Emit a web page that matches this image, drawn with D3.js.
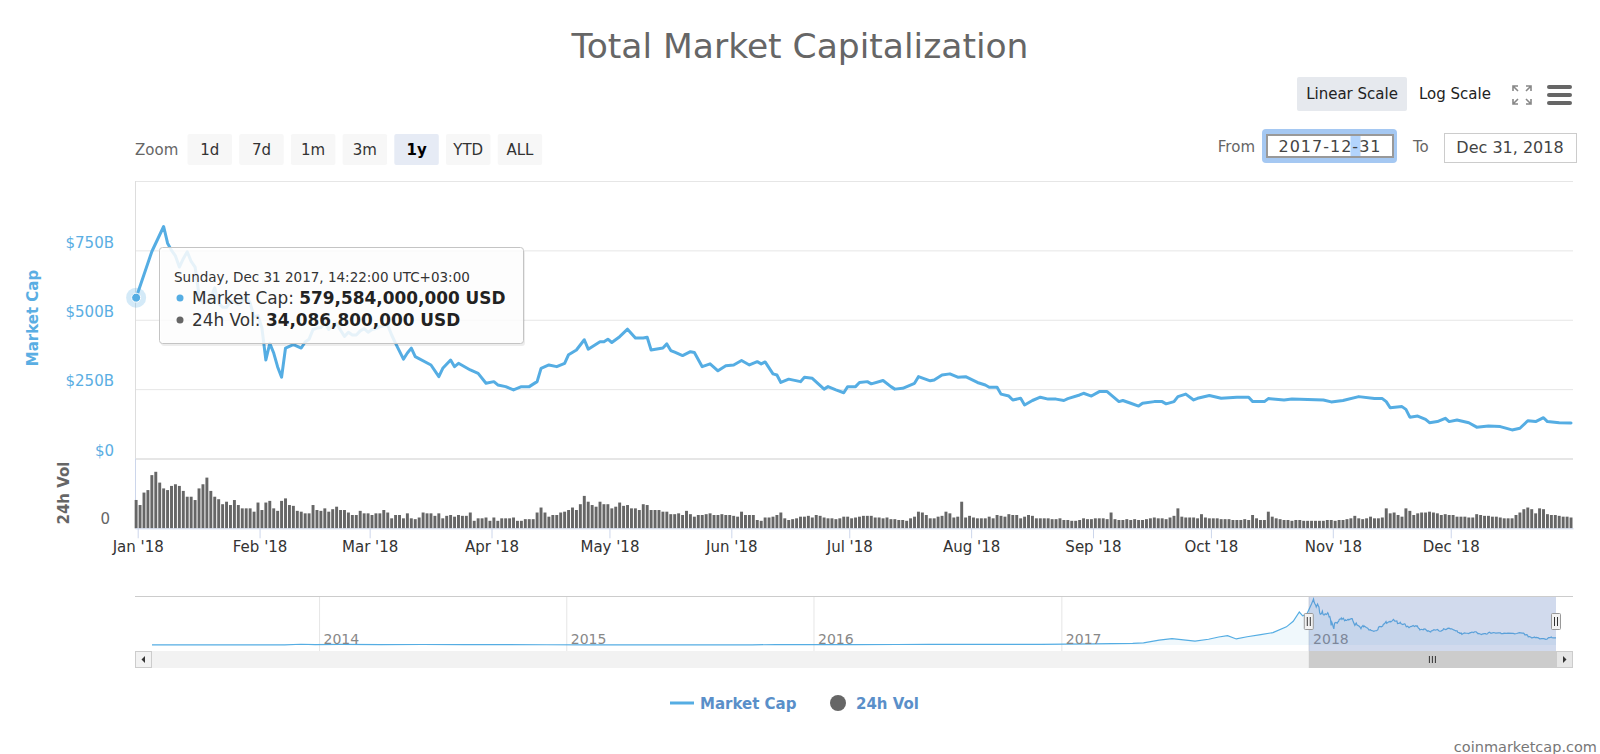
<!DOCTYPE html>
<html lang="en">
<head>
<meta charset="UTF-8">
<title>Total Market Capitalization</title>
<script src="https://d3js.org/d3.v7.min.js"></script>
<style>
  body { margin: 0; background: #fff; }
  svg { display: block; font-family: "DejaVu Sans", sans-serif; }
</style>
</head>
<body>
<div id="chart"></div>
<script>
// ---- data (billions of USD) ----
const capDates = [
  "2017-12-31","2018-01-04","2018-01-07","2018-01-08","2018-01-09","2018-01-10","2018-01-11","2018-01-12","2018-01-13","2018-01-14",
  "2018-01-15","2018-01-16","2018-01-17","2018-01-18","2018-01-19","2018-01-20","2018-01-21","2018-01-22","2018-01-23","2018-01-24",
  "2018-01-25","2018-01-26","2018-01-27","2018-01-28","2018-01-29","2018-01-30","2018-01-31","2018-02-01","2018-02-02","2018-02-03",
  "2018-02-04","2018-02-05","2018-02-06","2018-02-07","2018-02-09","2018-02-11","2018-02-12","2018-02-13","2018-02-14","2018-02-15",
  "2018-02-16","2018-02-17","2018-02-18","2018-02-19","2018-02-20","2018-02-21","2018-02-22","2018-02-23","2018-02-24","2018-02-25",
  "2018-02-26","2018-02-27","2018-02-28","2018-03-01","2018-03-02","2018-03-03","2018-03-04","2018-03-05","2018-03-06","2018-03-07",
  "2018-03-09","2018-03-10","2018-03-11","2018-03-12","2018-03-16","2018-03-18","2018-03-19","2018-03-21","2018-03-22","2018-03-23",
  "2018-03-26","2018-03-28","2018-03-30","2018-04-01","2018-04-02","2018-04-04","2018-04-06","2018-04-08","2018-04-10","2018-04-12",
  "2018-04-13","2018-04-15","2018-04-17","2018-04-19","2018-04-20","2018-04-22","2018-04-24","2018-04-25","2018-04-28","2018-04-29",
  "2018-04-30","2018-05-01","2018-05-03","2018-05-05","2018-05-07","2018-05-09","2018-05-10","2018-05-11","2018-05-14","2018-05-15",
  "2018-05-16","2018-05-17","2018-05-19","2018-05-21","2018-05-22","2018-05-24","2018-05-26","2018-05-28","2018-05-30","2018-06-01",
  "2018-06-03","2018-06-05","2018-06-07","2018-06-08","2018-06-09","2018-06-11","2018-06-12","2018-06-13","2018-06-15","2018-06-18",
  "2018-06-19","2018-06-21","2018-06-24","2018-06-25","2018-06-27","2018-06-29","2018-06-30","2018-07-02","2018-07-03","2018-07-05",
  "2018-07-06","2018-07-09","2018-07-11","2018-07-12","2018-07-14","2018-07-17","2018-07-18","2018-07-21","2018-07-22","2018-07-24",
  "2018-07-26","2018-07-28","2018-07-30","2018-08-02","2018-08-04","2018-08-05","2018-08-07","2018-08-08","2018-08-10","2018-08-11",
  "2018-08-13","2018-08-14","2018-08-16","2018-08-18","2018-08-20","2018-08-22","2018-08-24","2018-08-25","2018-08-28","2018-08-29",
  "2018-08-31","2018-09-02","2018-09-04","2018-09-07","2018-09-08","2018-09-10","2018-09-12","2018-09-13","2018-09-16","2018-09-18",
  "2018-09-19","2018-09-21","2018-09-22","2018-09-24","2018-09-26","2018-09-27","2018-09-30","2018-10-03","2018-10-07","2018-10-10",
  "2018-10-11","2018-10-14","2018-10-15","2018-10-19","2018-10-21","2018-10-29","2018-10-31","2018-11-03","2018-11-07","2018-11-11",
  "2018-11-13","2018-11-14","2018-11-15","2018-11-18","2018-11-19","2018-11-20","2018-11-22","2018-11-24","2018-11-25","2018-11-27",
  "2018-11-29","2018-11-30","2018-12-02","2018-12-05","2018-12-07","2018-12-10","2018-12-13","2018-12-16","2018-12-18","2018-12-20",
  "2018-12-22","2018-12-24","2018-12-25","2018-12-28","2018-12-31"
];
const capValues = [
  579.584,746,836,776,750,730,690,720,745,710,
  690,590,560,565,580,615,560,545,545,565,
  565,555,565,585,560,510,515,470,355,415,
  380,330,293,398,410,398,420,430,465,470,
  472,490,465,478,488,462,440,455,445,445,
  460,468,455,465,468,475,478,480,445,415,
  358,380,398,367,337,295,325,355,331,343,
  319,307,271,277,265,259,247,259,259,277,
  325,337,331,343,374,391,428,394,421,421,
  430,418,439,466,434,434,437,391,398,413,
  389,383,371,385,382,331,341,316,334,337,
  353,337,349,341,348,305,301,274,286,277,
  293,289,250,259,247,237,259,259,274,277,
  269,281,259,250,253,271,295,280,283,301,
  305,293,295,274,265,257,257,232,225,211,
  217,193,209,221,214,214,209,216,229,235,
  225,241,241,205,209,199,189,199,205,205,
  197,205,223,232,211,217,227,217,221,221,
  205,205,216,211,214,211,204,209,223,216,
  216,205,183,187,177,149,153,141,129,133,
  145,133,139,129,113,117,115,103,109,136,
  133,147,133,129,128
];

// daily 24h volume from 2017-12-31, one row per month
const volStart = "2017-12-31";
const volValues = [
  34.0868,
  28,43,46,64,68,55,48,46,51,53,51,45,38,38,34,48,53,61,45,38,35,29,32,28,34,28,24,24,24,20,31,
  22,31,33,24,21,33,36,28,27,21,20,18,18,28,22,21,24,20,23,26,22,22,19,16,16,21,18,18,
  16,18,18,22,19,12,16,16,12,18,12,11,13,19,18,18,15,18,12,15,16,14,16,15,15,19,9,12,12,13,9,
  13,9,12,12,12,13,9,9,11,11,11,19,25,19,14,16,16,19,20,22,25,22,29,39,32,28,26,32,29,29,
  24,26,31,27,28,24,24,22,29,28,22,22,22,20,20,17,17,18,16,21,17,14,16,16,17,18,16,16,17,16,16,
  15,14,20,16,16,16,10,9,13,13,14,16,19,12,10,11,12,14,14,15,13,16,15,13,12,12,11,12,14,14,
  12,13,14,15,15,15,13,13,12,13,11,11,10,10,9,12,14,20,19,16,12,12,14,15,20,18,13,14,32,13,15,
  13,12,12,12,14,12,16,15,14,17,16,16,12,14,16,15,12,12,12,12,11,11,12,10,10,9,9,10,12,11,11,
  12,12,12,11,19,11,10,10,11,10,11,10,10,11,12,13,12,12,11,13,15,24,14,13,13,13,12,17,13,12,
  12,12,11,11,11,10,10,10,11,10,16,12,10,10,20,14,12,11,10,10,9,10,10,9,9,9,9,9,9,10,10,
  9,10,10,11,12,15,12,11,12,14,12,12,13,24,18,19,16,14,24,21,16,18,19,19,20,19,18,16,17,16,
  16,14,14,14,13,13,17,16,15,15,14,14,13,12,12,12,16,19,23,25,23,18,24,23,17,16,16,15,14,14,13
];

// navigator history before 2018
const navDates = [
  "2013-04-28","2013-06-15","2013-08-15","2013-10-15","2013-11-10","2013-12-04","2013-12-25",
  "2014-02-01","2014-04-01","2014-06-01","2014-08-01","2014-10-01","2014-12-01",
  "2015-02-01","2015-04-01","2015-06-01","2015-08-01","2015-10-01","2015-11-05",
  "2016-01-01","2016-03-01","2016-05-01","2016-06-18","2016-08-01","2016-10-01","2016-12-01",
  "2017-01-05","2017-02-15","2017-03-15","2017-04-15","2017-05-01","2017-05-24","2017-06-12","2017-07-16","2017-08-05","2017-08-20",
  "2017-09-02","2017-09-15","2017-10-01","2017-10-21","2017-11-08","2017-11-28","2017-12-08","2017-12-17","2017-12-22","2017-12-28"
];
const navValues = [
  1.6,1.3,1.4,2.0,4,14,8,
  12,8,9,8,7,5,
  4,4,3.5,4,4,6,
  7,7.5,9,12,10,10.5,12,
  17,19,25,30,40,88,115,72,105,145,
  170,110,150,190,225,330,430,600,530,560
];

const yTicks = [0, 250, 500, 750, 1000];
const navYears = [2014, 2015, 2016, 2017, 2018];
const zoomButtons = ["1d", "7d", "1m", "3m", "1y", "YTD", "ALL"];

// ---- layout ----
const W = 1600, H = 754;
const left = 135, right = 1573;
const capTop = 181, capBottom = 458.5, volBottom = 528.3;
const blue = "#55ade3";

const parse = d3.utcParse("%Y-%m-%d");
const stamp = s => new Date(parse(s).getTime() + (14 * 60 + 22) * 60000);

const cap = capDates.map((d, i) => ({ date: stamp(d), value: capValues[i] }));
const vol = volValues.map((v, i) => ({ date: d3.utcDay.offset(stamp(volStart), i), value: v }));
const nav = navDates.map((d, i) => ({ date: stamp(d), value: navValues[i] })).concat(cap.slice(1));

const x = d3.scaleUtc()
  .domain([new Date(Date.UTC(2017, 11, 31, 7, 30)), new Date(Date.UTC(2019, 0, 1, 2, 24))])
  .range([left, right]);
const yCap = d3.scaleLinear().domain([0, 1000]).range([capBottom, capTop]);
const yVol = d3.scaleLinear().domain([0, 84]).range([volBottom, capBottom]);

const svg = d3.select("#chart").append("svg")
  .attr("width", W).attr("height", H);

svg.append("rect").attr("width", W).attr("height", H).attr("fill", "#fff");

// title
svg.append("text")
  .attr("x", 800).attr("y", 58)
  .attr("text-anchor", "middle")
  .attr("font-size", 34.5).attr("fill", "#666")
  .text("Total Market Capitalization");

// scale buttons, top right
svg.append("rect").attr("x", 1297).attr("y", 77).attr("width", 110).attr("height", 34)
  .attr("rx", 2).attr("fill", "#e6e9ee");
svg.append("text").attr("x", 1352).attr("y", 99).attr("text-anchor", "middle")
  .attr("font-size", 15).attr("fill", "#222").text("Linear Scale");
svg.append("text").attr("x", 1455).attr("y", 99).attr("text-anchor", "middle")
  .attr("font-size", 15).attr("fill", "#222").text("Log Scale");

// fullscreen icon
const fs = svg.append("g").attr("stroke", "#888").attr("stroke-width", 1.6).attr("fill", "none");
[[1513, 86, 1, 1], [1531, 86, -1, 1], [1513, 104, 1, -1], [1531, 104, -1, -1]].forEach(([cx, cy, sx, sy]) => {
  fs.append("path").attr("d", `M${cx},${cy + 5 * sy}L${cx},${cy}L${cx + 5 * sx},${cy}M${cx},${cy}L${cx + 5 * sx},${cy + 5 * sy}`);
});

// hamburger
[85, 93, 101].forEach(yy => {
  svg.append("rect").attr("x", 1547).attr("y", yy).attr("width", 25).attr("height", 4)
    .attr("rx", 2).attr("fill", "#666");
});

// range selector
svg.append("text").attr("x", left).attr("y", 155).attr("font-size", 15).attr("fill", "#666").text("Zoom");
const zb = svg.append("g").selectAll("g").data(zoomButtons).join("g")
  .attr("transform", (d, i) => `translate(${187.5 + i * 51.7},134)`);
zb.append("rect").attr("width", 44.5).attr("height", 31).attr("rx", 2)
  .attr("fill", d => d === "1y" ? "#e6ebf5" : "#f7f7f7");
zb.append("text").attr("x", 22.25).attr("y", 21).attr("text-anchor", "middle")
  .attr("font-size", 15).attr("fill", d => d === "1y" ? "#000" : "#333")
  .attr("font-weight", d => d === "1y" ? "bold" : "normal")
  .text(d => d);

svg.append("text").attr("x", 1255).attr("y", 152).attr("text-anchor", "end")
  .attr("font-size", 15).attr("fill", "#666").text("From");
svg.append("rect").attr("x", 1262).attr("y", 129).attr("width", 135).attr("height", 34)
  .attr("rx", 4).attr("fill", "#a5c8f2");
svg.append("rect").attr("x", 1267).attr("y", 135).attr("width", 126).attr("height", 22)
  .attr("fill", "#fff").attr("stroke", "#999").attr("stroke-width", 2);
svg.append("rect").attr("x", 1350.5).attr("y", 136).attr("width", 10).attr("height", 20).attr("fill", "#b3d4fc");
svg.append("text").attr("x", 1330).attr("y", 152).attr("text-anchor", "middle")
  .attr("font-size", 16).attr("letter-spacing", 1).attr("fill", "#444").text("2017-12-31");
svg.append("text").attr("x", 1413).attr("y", 152)
  .attr("font-size", 15).attr("fill", "#666").text("To");
svg.append("rect").attr("x", 1444.5).attr("y", 133.5).attr("width", 132).attr("height", 29)
  .attr("fill", "#fff").attr("stroke", "#ccc");
svg.append("text").attr("x", 1510).attr("y", 153).attr("text-anchor", "middle")
  .attr("font-size", 16).attr("fill", "#444").text("Dec 31, 2018");

// market cap pane: grid + axis
const yAxis = svg.append("g")
  .attr("transform", `translate(${left},0)`)
  .call(d3.axisLeft(yCap).tickValues(yTicks).tickSize(-(right - left)).tickPadding(21)
    .tickFormat(v => v === 1000 ? "" : v === 0 ? "$0" : "$" + v + "B"));
yAxis.select(".domain").remove();
yAxis.selectAll(".tick line").attr("stroke", "#e6e6e6").attr("stroke-width", d => d === 0 ? 2 : 1);
yAxis.selectAll(".tick text").attr("y", -8).attr("font-size", 15).attr("fill", "#5aaee3")
  .attr("font-family", "DejaVu Sans, sans-serif");

svg.append("line").attr("x1", left + 0.5).attr("x2", left + 0.5)
  .attr("y1", capTop).attr("y2", capBottom).attr("stroke", "#ddd");

svg.append("text")
  .attr("transform", "translate(33,318) rotate(-90)")
  .attr("text-anchor", "middle").attr("dy", "0.35em")
  .attr("font-size", 15).attr("font-weight", "bold").attr("fill", "#5aaee3")
  .text("Market Cap");

// volume pane
svg.append("line").attr("x1", left + 0.5).attr("x2", left + 0.5)
  .attr("y1", capBottom).attr("y2", volBottom).attr("stroke", "#ccd6eb");

const barW = x(d3.utcDay.offset(vol[0].date, 1)) - x(vol[0].date);
svg.append("g").selectAll("rect").data(vol).join("rect")
  .attr("x", d => x(d.date) - barW / 2 + 0.5)
  .attr("width", barW - 1)
  .attr("y", d => yVol(d.value))
  .attr("height", d => volBottom - yVol(d.value))
  .attr("fill", "#666");

svg.append("text").attr("x", 110).attr("y", 524).attr("text-anchor", "end")
  .attr("font-size", 15).attr("fill", "#666").text("0");
svg.append("text")
  .attr("transform", "translate(64,493) rotate(-90)")
  .attr("text-anchor", "middle").attr("dy", "0.35em")
  .attr("font-size", 15).attr("font-weight", "bold").attr("fill", "#666")
  .text("24h Vol");

// x axis
const months = d3.utcMonth.range(new Date(Date.UTC(2018, 0, 1)), new Date(Date.UTC(2019, 0, 1)));
const xAxis = svg.append("g")
  .attr("transform", `translate(0,${volBottom})`)
  .call(d3.axisBottom(x).tickValues(months).tickFormat(d3.utcFormat("%b '%y"))
    .tickSize(10).tickSizeOuter(0).tickPadding(3));
xAxis.select(".domain").attr("stroke", "#ccd6eb");
xAxis.selectAll(".tick line").attr("stroke", "#ccd6eb");
xAxis.selectAll(".tick text").attr("font-size", 15).attr("fill", "#333")
  .attr("font-family", "DejaVu Sans, sans-serif");

// market cap line
svg.append("path").datum(cap)
  .attr("fill", "none").attr("stroke", blue).attr("stroke-width", 3)
  .attr("stroke-linejoin", "round").attr("stroke-linecap", "round")
  .attr("d", d3.line().x(d => x(d.date)).y(d => yCap(d.value)));

// hovered point + tooltip
const p0 = cap[0], v0 = vol[0];
svg.append("circle").attr("cx", x(p0.date)).attr("cy", yCap(p0.value)).attr("r", 10)
  .attr("fill", blue).attr("opacity", 0.25);
svg.append("circle").attr("cx", x(p0.date)).attr("cy", yCap(p0.value)).attr("r", 4.5)
  .attr("fill", blue).attr("stroke", "#fff").attr("stroke-width", 1);

const tip = svg.append("g");
tip.append("rect").attr("x", 161).attr("y", 250).attr("width", 364).attr("height", 96)
  .attr("rx", 3).attr("fill", "rgba(0,0,0,0.07)");
tip.append("rect").attr("x", 159.5).attr("y", 247.5).attr("width", 364).attr("height", 96)
  .attr("rx", 3).attr("fill", "rgba(255,255,255,0.86)").attr("stroke", "#c4c4c4");
const fmtNum = d3.format(",");
tip.append("text").attr("x", 174).attr("y", 281.5).attr("font-size", 13.5).attr("fill", "#333")
  .text(d3.utcFormat("%A, %b %d %Y, %H:%M:%S")(p0.date) + " UTC+03:00");
[[blue, "Market Cap: ", p0.value, 303.5], ["#666", "24h Vol: ", v0.value, 325.5]].forEach(([c, label, v, yy]) => {
  tip.append("circle").attr("cx", 180).attr("cy", yy - 5.5).attr("r", 3.5).attr("fill", c);
  const t = tip.append("text").attr("x", 192).attr("y", yy).attr("font-size", 16.9).attr("fill", "#333");
  t.append("tspan").text(label);
  t.append("tspan").attr("font-weight", "bold").attr("fill", "#222")
    .text(fmtNum(Math.round(v * 1e9)) + " USD");
});

// navigator
const navTop = 596, navBottom = 651, scrollH = 17;
const navX = d3.scaleUtc()
  .domain([stamp("2013-04-28"), stamp("2018-12-31")])
  .range([left + scrollH, right - scrollH]);
const navY = d3.scaleLinear().domain([0, 836]).range([645, 599]);

navYears.forEach(yr => {
  const xx = navX(new Date(Date.UTC(yr, 0, 1)));
  svg.append("line").attr("x1", xx).attr("x2", xx).attr("y1", navTop).attr("y2", navBottom)
    .attr("stroke", "#e6e6e6");
});
svg.append("path").datum(nav)
  .attr("fill", blue).attr("fill-opacity", 0.09)
  .attr("d", d3.area().x(d => navX(d.date)).y0(645).y1(d => navY(d.value)));
svg.append("path").datum(nav)
  .attr("fill", "none").attr("stroke", blue).attr("stroke-width", 1.2)
  .attr("d", d3.line().x(d => navX(d.date)).y(d => navY(d.value)));
navYears.forEach(yr => {
  svg.append("text").attr("x", navX(new Date(Date.UTC(yr, 0, 1))) + 4).attr("y", 644)
    .attr("font-size", 14).attr("fill", "#888").text(yr);
});
svg.append("line").attr("x1", left).attr("x2", right).attr("y1", navTop + 0.5).attr("y2", navTop + 0.5)
  .attr("stroke", "#ccc");

const selL = navX(p0.date), selR = navX(cap[cap.length - 1].date);
svg.append("rect").attr("x", selL).attr("y", navTop + 1).attr("width", selR - selL).attr("height", navBottom - navTop - 1)
  .attr("fill", "rgba(102,133,194,0.3)");

// scrollbar
svg.append("rect").attr("x", left).attr("y", navBottom).attr("width", right - left).attr("height", scrollH)
  .attr("fill", "#f2f2f2");
svg.append("rect").attr("x", selL).attr("y", navBottom).attr("width", selR - selL).attr("height", scrollH)
  .attr("fill", "#ccc");
const gx = (selL + selR) / 2;
[-3, 0, 3].forEach(o => {
  svg.append("line").attr("x1", gx + o).attr("x2", gx + o).attr("y1", navBottom + 5).attr("y2", navBottom + 12)
    .attr("stroke", "#333");
});
[[left, -1], [right - scrollH, 1]].forEach(([bx, dir]) => {
  svg.append("rect").attr("x", bx + 0.5).attr("y", navBottom + 0.5).attr("width", scrollH - 1).attr("height", scrollH - 1)
    .attr("fill", dir < 0 ? "#f2f2f2" : "#e6e6e6").attr("stroke", "#ccc");
  const cx = bx + scrollH / 2, cy = navBottom + scrollH / 2;
  svg.append("path").attr("fill", "#333")
    .attr("d", `M${cx + 2 * dir},${cy}L${cx - 1.5 * dir},${cy - 3.5}L${cx - 1.5 * dir},${cy + 3.5}Z`);
});

// handles
[selL, selR].forEach(hx => {
  svg.append("rect").attr("x", hx - 4.5).attr("y", 613.5).attr("width", 9).attr("height", 16)
    .attr("rx", 1).attr("fill", "#f2f2f2").attr("stroke", "#999");
  [-1.5, 1.5].forEach(o => {
    svg.append("line").attr("x1", hx + o).attr("x2", hx + o).attr("y1", 617).attr("y2", 626).attr("stroke", "#333");
  });
});

// legend
svg.append("line").attr("x1", 670).attr("x2", 694).attr("y1", 703).attr("y2", 703)
  .attr("stroke", blue).attr("stroke-width", 3);
svg.append("text").attr("x", 700).attr("y", 708.5).attr("font-size", 15).attr("font-weight", "bold")
  .attr("fill", "#5a8fc9").text("Market Cap");
svg.append("circle").attr("cx", 838).attr("cy", 703).attr("r", 8).attr("fill", "#666");
svg.append("text").attr("x", 856).attr("y", 708.5).attr("font-size", 15).attr("font-weight", "bold")
  .attr("fill", "#5a8fc9").text("24h Vol");

// credits
svg.append("text").attr("x", 1597).attr("y", 752).attr("text-anchor", "end")
  .attr("font-size", 14.5).attr("fill", "#777").text("coinmarketcap.com");
</script>
</body>
</html>
